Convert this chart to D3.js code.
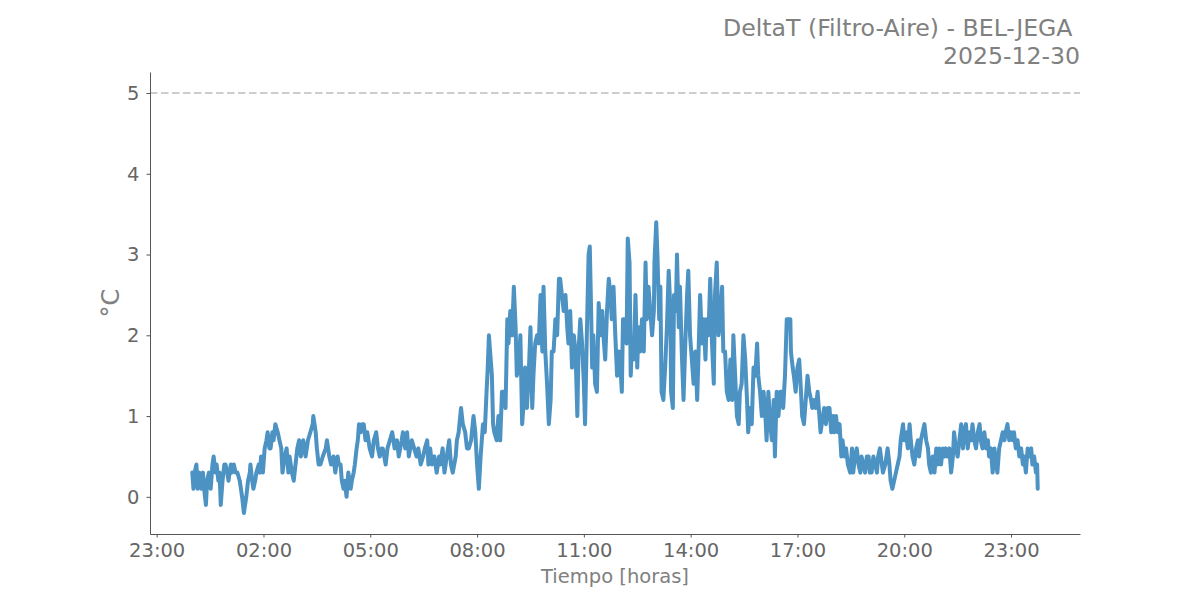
<!DOCTYPE html>
<html><head><meta charset="utf-8">
<script src="https://cdn.jsdelivr.net/npm/d3@7"></script>
<style>body{margin:0;background:#fff} svg{display:block;font-family:"DejaVu Sans",sans-serif}</style>
</head><body><svg id="c" width="1200" height="600"></svg>
<script>
const titleLines = ["DeltaT (Filtro-Aire) - BEL-JEGA ", "2025-12-30"];
const xLabel = "Tiempo [horas]";
const yLabel = "°C";
const thresholdValue = 5;
const xTickMinutes = [-60, 120, 300, 480, 660, 840, 1020, 1200, 1380];
const xTickLabels = ["23:00","02:00","05:00","08:00","11:00","14:00","17:00","20:00","23:00"];
const yTicks = [0, 1, 2, 3, 4, 5];

// minutes since 00:00 of 2025-12-30
const times = [
0,2,4,7,9,12,15,18,20,23, 25,28,31,34,36,39,41,44,46,48, 51,54,56,59,61,65,67,70,73,76,
80,84,87,91,94,97,98,101,103,106, 108,112,114,116,119,122,125,127,130,132, 135,137,140,144,147,150,152,156,159,162,
164,168,171,174,177,180,183,187,191,195, 199,203,204,208,210,213,216,220,225,227, 231,234,238,241,245,247,
250,252,255,257,260,263,267,269,272,274, 277,279,281,284,286,289,292,295,299,303, 306,310,313,316,319,321,326,329,333,337,
341,345,348,353,355,359,362,365,370,374, 378,381,385,389,392,396,398,401,404,408, 412,416,418,422,425,429,433,436,439,444,
446,449,453,456,460,463,466,470,474,477, 480,483,486,490,493,496,498,500,503,
505,507,509,513,516,519,522,526,528,531, 533,536,539,542,545,547,550,553,556,559, 561,564,567,570,573,575,578,581,584,587,
590,592,595,598,601,604,606,609,612,615, 618,620,623,626,629,632,634,637,640,643, 646,649,651,654,657,660,662,665,668,670,
672,674,676,679,682,685,688,691,693,696, 699,702,705,707,710,713,716,719,721,
724,726,729,732,734,737,739,741,744,747, 750,752,755,758,761,764,766,769,772,775, 778,779,782,784,787,789,791,794,797,800,
803,806,807,810,812,815,817,820,822,825, 828,831,834,836,839,842,845,848,851,853, 856,859,862,865,867,870,873,876,879,881,
884,887,890,893,895,898,901,904,
907,910,912,915,918,921,923,926,929,932, 935,937,940,943,946,949,952,954,957,960, 963,966,968,971,974,977,980,982,985,988,
991,994,996,999,1002,1005,1008,1009,1012,1014, 1017,1020,1023,1026,1028,1031,1034,1037,1040,1043, 1045,1048,1051,1054,1057,1059,1063,1065,1068,1071,
1074,1077,1080,1082,1085,1088,1091,1094,1096,1099, 1102,1105,1109,1112,1114,1117,1120,1123,
1126,1128,1131,1134,1137,1140,1142,1145,1148,1151, 1154,1156,1159,1164,1168,1172,1175,1177,1180,1183, 1186,1189,1192,1194,1198,1200,1203,1206,1209,1211,
1214,1217,1220,1223,1225,1228,1231,1234,1237,1240, 1242,1245,1248,1251,1254,1256,1259,1262,1265,1268, 1270,1273,1276,1279,1282,1284,1287,1290,1293,1296,
1299,1301,1304,1307,1310,1313,1315,1318,1321,1324, 1327,1329,1332,1335,1338,1341,1343,1346,1349,1352, 1355,1357,1360,1363,1366,1369,1371,1374,1377,1380,
1383,1385,1388,1391,1394,1397,1400,1402,1405,1408, 1411,1414,1416,1419,1422,1424,1425
];

// DeltaT in °C
const values = [
0.3,0.1,0.3,0.4,0.1,0.3,0.1,0.3,0.1,-0.1, 0.2,0.3,0.1,0.4,0.5,0.3,0.4,0.2,0.3,-0.1, 0.2,0.4,0.4,0.3,0.2,0.4,0.3,0.4,0.3,0.3,
0.2,0.0,-0.2,0.0,0.2,0.3,0.4,0.2,0.1,0.2, 0.3,0.4,0.3,0.5,0.3,0.6,0.7,0.8,0.6,0.6, 0.8,0.7,0.9,0.8,0.7,0.6,0.3,0.5,0.6,0.3,
0.5,0.3,0.2,0.4,0.6,0.7,0.5,0.7,0.5,0.7, 0.8,0.9,1.0,0.8,0.6,0.4,0.4,0.5,0.6,0.7, 0.5,0.4,0.5,0.3,0.5,0.4,
0.4,0.2,0.1,0.2,0.0,0.3,0.1,0.2,0.3,0.4, 0.6,0.7,0.9,0.8,0.9,0.9,0.7,0.8,0.6,0.5, 0.7,0.8,0.6,0.5,0.6,0.6,0.4,0.6,0.7,0.8,
0.6,0.7,0.5,0.7,0.8,0.6,0.8,0.5,0.7,0.6, 0.5,0.6,0.4,0.5,0.6,0.7,0.4,0.6,0.4,0.5, 0.3,0.5,0.4,0.6,0.3,0.5,0.7,0.4,0.3,0.5,
0.7,0.8,1.1,0.9,0.8,0.6,0.6,0.7,1.0,0.8, 0.4,0.1,0.5,0.9,0.8,1.3,1.6,2.0,1.7,
1.5,0.9,0.8,0.7,1.0,0.7,1.3,1.3,1.1,2.2, 1.9,2.3,2.0,2.6,2.1,1.5,1.6,2.0,0.9,1.2, 1.6,1.1,1.5,2.1,1.1,1.5,1.9,2.0,1.9,2.5,
1.8,2.6,1.8,1.4,0.9,1.2,1.8,1.8,2.2,2.0, 2.7,2.7,2.5,2.3,2.5,2.1,1.9,2.3,1.6,2.0, 1.8,1.0,1.8,2.2,1.9,1.4,0.9,2.0,3.0,3.1,
2.4,1.6,2.0,1.4,1.3,2.4,2.0,2.3,2.0,1.7, 2.3,2.7,2.5,2.2,2.6,2.0,1.5,1.8,1.7,
1.3,2.2,2.2,1.9,3.2,2.9,1.5,1.9,1.7,2.5, 1.6,2.1,1.8,2.2,1.8,2.9,2.2,2.6,2.3,2.0, 2.3,2.9,3.4,3.0,2.2,2.6,1.3,1.2,1.6,2.1,
2.8,2.3,1.3,1.1,2.5,2.3,3.0,2.1,2.6,1.8, 1.2,1.9,2.5,2.8,2.0,1.7,1.4,1.8,1.2,1.7, 2.5,1.9,2.2,1.7,2.2,2.0,2.7,1.9,1.4,2.5,
2.9,2.0,2.2,2.6,1.8,1.8,1.3,1.2,
1.7,1.2,2.0,1.5,1.0,0.9,1.3,1.4,2.0,1.7, 1.2,0.8,1.1,0.9,1.6,1.5,1.9,1.5,1.3,1.0, 1.3,1.0,0.7,1.3,0.9,0.7,1.2,0.5,1.3,1.0,
1.3,1.3,1.1,1.5,2.2,2.2,2.2,1.8,1.6,1.5, 1.3,1.6,1.7,1.3,1.0,0.9,1.2,1.5,1.3,1.2, 1.1,1.2,1.1,1.3,1.0,0.8,1.0,1.1,0.9,1.1,
1.1,0.8,1.0,0.8,1.0,0.8,0.9,0.5,0.7,0.5, 0.6,0.4,0.3,0.6,0.3,0.5,0.6,0.4,
0.3,0.5,0.4,0.3,0.5,0.5,0.3,0.3,0.5,0.4, 0.3,0.5,0.6,0.3,0.4,0.6,0.4,0.2,0.1,0.2, 0.3,0.4,0.5,0.7,0.9,0.7,0.8,0.6,0.9,0.7,
0.5,0.4,0.6,0.7,0.5,0.7,0.8,0.9,0.7,0.6, 0.4,0.3,0.5,0.3,0.6,0.4,0.6,0.4,0.6,0.5, 0.6,0.5,0.6,0.3,0.5,0.8,0.6,0.5,0.7,0.9,
0.6,0.8,0.9,0.6,0.8,0.7,0.9,0.7,0.6,0.8, 0.9,0.7,0.6,0.8,0.6,0.7,0.5,0.6,0.3,0.6, 0.4,0.3,0.6,0.7,0.8,0.7,0.8,0.9,0.7,0.8,
0.7,0.8,0.6,0.7,0.5,0.6,0.4,0.5,0.3,0.6, 0.5,0.6,0.4,0.5,0.3,0.4,0.1
];

const data = times.map((t, i) => ({ t, v: values[i] }));

const W = 1200, H = 600;
const m = { left: 150, right: 120, top: 72, bottom: 66 };
const svg = d3.select("#c");

const tExt = d3.extent(times);
const tPad = (tExt[1] - tExt[0]) * 0.05;
const x = d3.scaleLinear().domain([tExt[0] - tPad, tExt[1] + tPad]).range([m.left, W - m.right]);
const yMin = Math.min(d3.min(values), thresholdValue), yMax = Math.max(d3.max(values), thresholdValue);
const yPad = (yMax - yMin) * 0.05;
const y = d3.scaleLinear().domain([yMin - yPad, yMax + yPad]).range([H - m.bottom, m.top]);

const tickColor = "#666";
const spineColor = "#555";

// threshold line
svg.append("line")
  .attr("x1", m.left).attr("x2", W - m.right)
  .attr("y1", y(thresholdValue)).attr("y2", y(thresholdValue))
  .attr("stroke", "#bdbdbd").attr("stroke-width", 1.6)
  .attr("stroke-dasharray", "7.5,3.5");

// data line
svg.append("path").datum(data)
  .attr("fill", "none")
  .attr("stroke", "#1f77b4").attr("stroke-opacity", 0.8)
  .attr("stroke-width", 4)
  .attr("stroke-linejoin", "round").attr("stroke-linecap", "round")
  .attr("d", d3.line().x(d => x(d.t)).y(d => y(d.v)));

// axes
const xAxis = d3.axisBottom(x).tickValues(xTickMinutes)
  .tickFormat((d, i) => xTickLabels[i]).tickSizeInner(3.5).tickSizeOuter(0).tickPadding(6);
const gx = svg.append("g").attr("transform", `translate(0,${H - m.bottom})`).call(xAxis);
const yAxis = d3.axisLeft(y).tickValues(yTicks).tickFormat(d3.format("d"))
  .tickSizeInner(3.5).tickSizeOuter(0).tickPadding(7);
const gy = svg.append("g").attr("transform", `translate(${m.left},0)`).call(yAxis);

[gx, gy].forEach(g => {
  g.select(".domain").attr("stroke", spineColor).attr("stroke-width", 1);
  g.selectAll(".tick line").attr("stroke", spineColor).attr("stroke-width", 1);
  g.selectAll(".tick text").attr("fill", tickColor)
    .style("font-family", "DejaVu Sans").style("font-size", "19.5px");
});

// labels
svg.append("text").attr("x", (m.left + W - m.right) / 2).attr("y", 583)
  .attr("text-anchor", "middle").attr("fill", "#808080")
  .style("font-size", "19.5px").text(xLabel);

svg.append("text")
  .attr("transform", `translate(119,${(m.top + H - m.bottom) / 2}) rotate(-90)`)
  .attr("text-anchor", "middle").attr("fill", "#808080")
  .style("font-size", "24px").text(yLabel);

const title = svg.append("text").attr("text-anchor", "end").attr("fill", "#808080")
  .attr("xml:space", "preserve").style("white-space", "pre").style("font-size", "23.6px");
titleLines.forEach((s, i) => {
  title.append("tspan").attr("x", W - m.right).attr("y", 36 + i * 28).text(s);
});
</script>
</body></html>
